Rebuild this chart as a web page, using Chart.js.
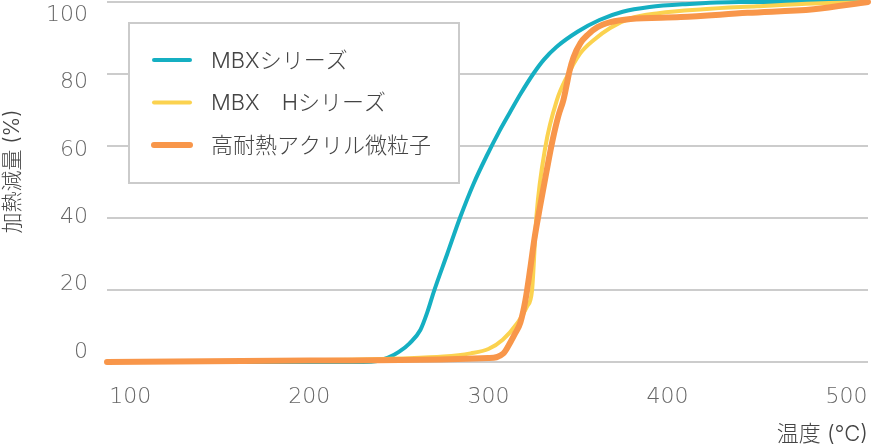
<!DOCTYPE html>
<html lang="ja">
<head>
<meta charset="utf-8">
<script src="https://cdn.jsdelivr.net/npm/chart.js@4.4.1/dist/chart.umd.min.js"></script>
<style>
  html, body { margin: 0; padding: 0; background: #fff; }
  #wrap { width: 872px; height: 448px; position: relative; }
</style>
</head>
<body>
<div id="wrap"><canvas id="tga-chart"></canvas></div>
<script>
// 温度 (°C) と加熱減量 (%) - 画像から読み取った値
const xTicks = [100, 200, 300, 400, 500];
const yTicks = [0, 20, 40, 60, 80, 100];

const mbxTemp = [87, 230, 238, 244, 250, 256, 262, 266, 269.5, 277, 284.4, 291.8, 299.3, 306, 312, 318, 325, 331, 338, 350, 362, 375, 390, 410, 440, 512];
const mbxLoss = [0, 0, 0.3, 1.2, 2.8, 5.2, 8.9, 14.0, 19.5, 30, 40.4, 49.6, 57.5, 64, 69.3, 74.5, 80, 84, 87.5, 91.8, 95, 97.3, 98.6, 99.4, 100, 100];

const mbxhTemp = [87, 200, 250, 275, 290, 300, 308, 316, 321.6, 324.4, 326.8, 331.8, 338.3, 343.9, 351.4, 358.7, 368, 379, 395, 420, 450, 482, 512];
const mbxhLoss = [0, 0.5, 1.0, 1.5, 2.4, 3.6, 6.2, 10.7, 15.4, 20, 40.4, 59.7, 72.8, 79.3, 85.8, 89.4, 92.8, 95.4, 96.9, 98, 98.8, 99.6, 100];

const acrylTemp = [87, 200, 300, 308.4, 312.3, 315, 317.9, 320.7, 323.5, 325.7, 329, 332.4, 335.8, 339.1, 341.9, 343.6, 345.3, 347.5, 351.4, 355.3, 360.9, 368.2, 379.3, 407.3, 444.7, 481.6, 512];
const acrylLoss = [0, 0.4, 1.1, 2.4, 5.5, 8.0, 11.0, 17.2, 26.4, 34.2, 43.6, 52.8, 61.5, 68.4, 72.8, 76.7, 80.8, 84.6, 88.6, 90.8, 93, 94.4, 95.3, 95.8, 97, 98, 100];

const seriesNames = ['MBXシリーズ', 'MBX\u3000Hシリーズ', '高耐熱アクリル微粒子'];
const seriesColors = ['#15afc2', '#fbd24f', '#f8964a'];

const jpFont = "Inter, 'Noto Sans CJK JP', sans-serif";
const numFont = "'DejaVu Sans', sans-serif";

function toPoints(xs, ys) {
    return xs.map((x, i) => ({ x: x, y: ys[i] }));
}

// 凡例は枠付きでグラフ内に描く
const boxLegend = {
    id: 'boxLegend',
    beforeDatasetsDraw(chart) {
        const ctx = chart.ctx;
        ctx.save();
        ctx.fillStyle = '#ffffff';
        ctx.fillRect(129, 23, 330, 160);
        ctx.strokeStyle = '#cbcbcb';
        ctx.lineWidth = 2;
        ctx.strokeRect(129, 23, 330, 160);
        chart.data.datasets.forEach((ds, i) => {
            const y = 60 + i * 42.5;
            ctx.beginPath();
            ctx.lineCap = 'round';
            ctx.strokeStyle = ds.borderColor;
            ctx.lineWidth = ds.borderWidth;
            ctx.moveTo(154, y);
            ctx.lineTo(190, y);
            ctx.stroke();
            ctx.fillStyle = '#444';
            ctx.font = '300 22px ' + jpFont;
            ctx.textBaseline = 'middle';
            ctx.fillText(ds.label, 211, y + 1);
        });
        ctx.restore();
    }
};

const ctx = document.getElementById('tga-chart').getContext('2d');
new Chart(ctx, {
    type: 'line',
    data: {
        datasets: [{
            label: seriesNames[0],
            data: toPoints(mbxTemp, mbxLoss),
            borderColor: seriesColors[0],
            borderWidth: 4,
            yAxisID: 'y',
            order: 3
        }, {
            label: seriesNames[1],
            data: toPoints(mbxhTemp, mbxhLoss),
            borderColor: seriesColors[1],
            borderWidth: 4,
            yAxisID: 'y',
            order: 2
        }, {
            label: seriesNames[2],
            data: toPoints(acrylTemp, acrylLoss),
            borderColor: seriesColors[2],
            borderWidth: 6,
            yAxisID: 'y',
            order: 1
        }]
    },
    options: {
        responsive: true,
        maintainAspectRatio: false,
        animation: false,
        layout: { padding: { top: 2, right: 4, left: 0, bottom: 0 } },
        elements: {
            point: { radius: 0 },
            line: { cubicInterpolationMode: 'monotone', borderCapStyle: 'round', borderJoinStyle: 'round' }
        },
        datasets: { line: { clip: 6 } },
        plugins: {
            legend: { display: false },
            tooltip: { enabled: false }
        },
        scales: {
            x: {
                type: 'linear',
                min: 87,
                max: 512,
                afterBuildTicks: s => { s.ticks = xTicks.map(v => ({ value: v })); },
                afterFit: s => { s.height = 86; s.paddingLeft = 0; s.paddingRight = 0; },
                grid: { display: false, drawTicks: false },
                border: { display: false },
                ticks: {
                    color: '#666',
                    padding: 22,
                    maxRotation: 0,
                    font: { family: numFont, size: 22, weight: 200 }
                },
                title: {
                    display: true,
                    text: '温度 (°C)',
                    align: 'end',
                    color: '#444',
                    padding: 0,
                    font: { family: jpFont, size: 22, weight: 300 }
                }
            },
            yLabel: {
                position: 'left',
                min: -2.97,
                max: 103.86,
                afterBuildTicks: s => { s.ticks = yTicks.map(v => ({ value: v })); },
                afterFit: s => { s.width = 107; s.paddingTop = 0; s.paddingBottom = 0; },
                grid: { display: false, drawTicks: false },
                border: { display: false },
                ticks: {
                    color: '#666',
                    padding: 19,
                    font: { family: numFont, size: 22, weight: 200 }
                },
                title: {
                    display: true,
                    text: '\u3000加熱減量 (%)',
                    color: '#444',
                    padding: 0,
                    font: { family: jpFont, size: 21, weight: 300 }
                }
            },
            y: {
                position: 'left',
                min: 0,
                max: 100,
                afterBuildTicks: s => { s.ticks = yTicks.map(v => ({ value: v })); },
                afterFit: s => { s.width = 0; s.paddingTop = 0; s.paddingBottom = 0; },
                grid: { color: '#cccccc', lineWidth: 2, drawTicks: false },
                border: { display: false },
                ticks: { display: false }
            }
        }
    },
    plugins: [boxLegend]
});
</script>
</body>
</html>
